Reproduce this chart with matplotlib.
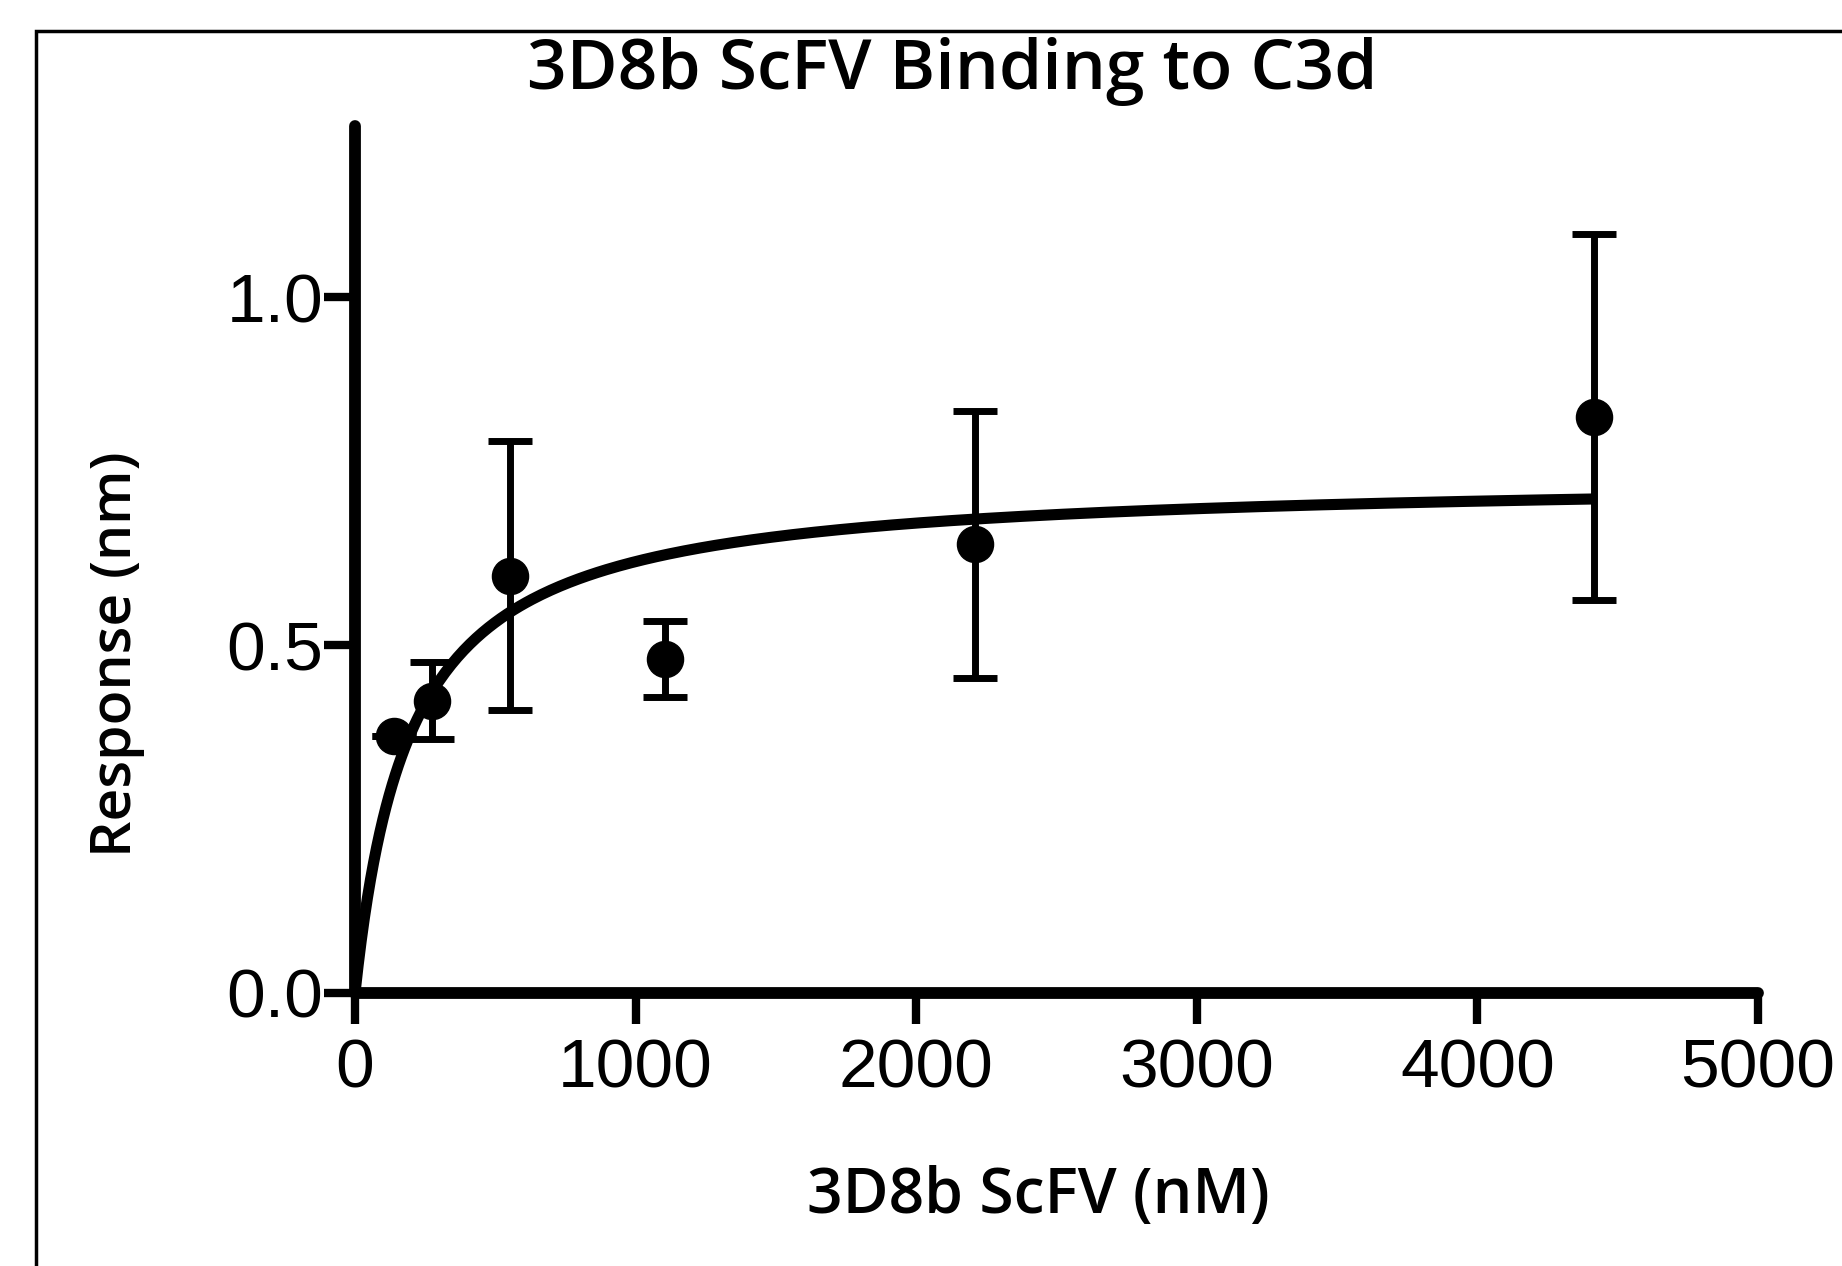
import numpy as np
import matplotlib
matplotlib.use("Agg")
import matplotlib.pyplot as plt
from matplotlib.patches import Rectangle

# measured data (nM, response nm, SD)
conc = [138, 276, 552, 1104, 2208, 4416]
resp = [0.370, 0.420, 0.600, 0.480, 0.645, 0.828]
err = [0.0, 0.055, 0.193, 0.054, 0.192, 0.263]

# one-site binding fit
bmax = 0.7415
kd = 196.0

xticks = [0, 1000, 2000, 3000, 4000, 5000]
yticks = [0.0, 0.5, 1.0]
ytick_labels = ["0.0", "0.5", "1.0"]

title_font = ["Open Sans", "DejaVu Sans"]
tick_font = ["Liberation Sans", "DejaVu Sans"]

fig = plt.figure(figsize=(18.42, 12.66), dpi=100)
ax = fig.add_axes([355/1842, 1-993/1266, (1758-355)/1842, (993-126)/1266])

xfit = np.linspace(0, conc[-1], 400)
ax.plot(xfit, bmax*xfit/(kd+xfit), color="black", lw=8, solid_capstyle="butt", zorder=3)
ax.errorbar(conc, resp, yerr=err, fmt="o", color="black", ms=26, elinewidth=5,
            capsize=16, capthick=5, zorder=4, clip_on=False)

ax.set_xlim(0, 5000)
ax.set_ylim(0, 1.246)
ax.set_xticks(xticks)
ax.set_xticklabels([str(t) for t in xticks], family=tick_font, fontsize=50)
ax.set_yticks(yticks)
ax.set_yticklabels(ytick_labels, family=tick_font, fontsize=50)
ax.tick_params(axis="both", width=6, length=22, color="black")
ax.tick_params(axis="x", pad=10)
ax.tick_params(axis="y", pad=1)
for s in ["top", "right"]:
    ax.spines[s].set_visible(False)
for s in ["left", "bottom"]:
    ax.spines[s].set_linewidth(8.5)
    ax.spines[s].set_capstyle("round")

fig.text(952/1842, 1-71/1266, "3D8b ScFV Binding to C3d", ha="center", va="center",
         family=title_font, fontsize=50, fontweight=600)
fig.text(1038/1842, 1-1196/1266, "3D8b ScFV (nM)", ha="center", va="center",
         family=title_font, fontsize=45, fontweight=600)
fig.text(117/1842, 1-654/1266, "Response (nm)", ha="center", va="center", rotation=90,
         family=title_font, fontsize=41, fontweight=600)

# outer frame (only top and left visible in the crop)
fig.patches.append(Rectangle((36/1842, -0.1), 1.2, 1-31/1266+0.1, transform=fig.transFigure,
                             fill=False, lw=2.5, edgecolor="black"))

fig.savefig("out.png", dpi=100)
